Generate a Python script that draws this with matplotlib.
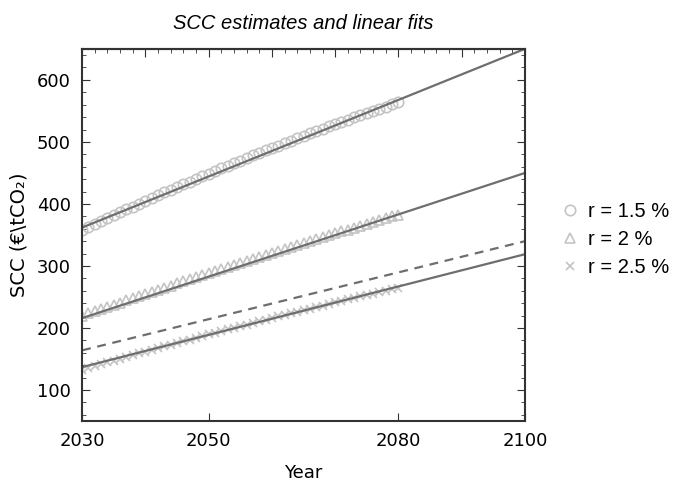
import numpy as np
import matplotlib
matplotlib.use('Agg')
import matplotlib.pyplot as plt
from matplotlib.ticker import MultipleLocator, FixedLocator

# yearly SCC estimates, 2030..2080
years = np.arange(2030, 2081)

scc_15 = [358.0, 362.8, 367.6, 372.4, 377.1, 381.8, 386.5, 391.2, 395.8, 400.4,
          405.0, 409.5, 414.0, 418.5, 422.9, 427.4, 431.8, 436.1, 440.5, 444.8,
          449.0, 453.3, 457.5, 461.7, 465.9, 470.0, 474.1, 478.2, 482.2, 486.3,
          490.2, 494.2, 498.1, 502.0, 505.9, 509.8, 513.6, 517.4, 521.1, 524.9,
          528.6, 532.2, 535.9, 539.5, 543.1, 546.6, 550.2, 553.7, 557.1, 560.6,
          564.0]

scc_2 = [220.0, 223.5, 227.1, 230.6, 234.1, 237.6, 241.0, 244.5, 248.0, 251.4,
         254.8, 258.3, 261.7, 265.1, 268.5, 271.8, 275.2, 278.6, 281.9, 285.2,
         288.6, 291.9, 295.2, 298.5, 301.7, 305.0, 308.3, 311.5, 314.7, 318.0,
         321.2, 324.4, 327.6, 330.7, 333.9, 337.0, 340.2, 343.3, 346.4, 349.5,
         352.6, 355.7, 358.8, 361.9, 364.9, 368.0, 371.0, 374.0, 377.0, 380.0,
         383.0]

scc_25 = [133.0, 136.0, 138.9, 141.8, 144.7, 147.6, 150.5, 153.4, 156.3, 159.1,
          162.0, 164.8, 167.6, 170.4, 173.2, 176.0, 178.7, 181.5, 184.2, 186.9,
          189.6, 192.3, 195.0, 197.7, 200.4, 203.0, 205.6, 208.3, 210.9, 213.5,
          216.0, 218.6, 221.2, 223.7, 226.2, 228.8, 231.3, 233.8, 236.2, 238.7,
          241.2, 243.6, 246.0, 248.5, 250.9, 253.2, 255.6, 258.0, 260.3, 262.7,
          265.0]

# linear fits (end points 2030 and 2100)
fit_years = [2030, 2100]
fit_15 = [362, 650]
fit_2 = [216, 450]
fit_25 = [137, 319]
fit_dash = [164, 340]

mk_col = '#c4c4c4'
ln_col = '#6e6e6e'

fig = plt.figure(figsize=(6.73, 4.84), dpi=100)
ax = fig.add_axes([0.122, 0.130, 0.658, 0.769])

ax.plot(years, scc_15, 'o', ms=7.5, mfc='none', mec=mk_col, mew=1.2, label='r = 1.5 %')
ax.plot(years, scc_2, '^', ms=7.5, mfc='none', mec=mk_col, mew=1.2, label='r = 2 %')
ax.plot(years, scc_25, 'x', ms=6, mec=mk_col, mew=1.2, label='r = 2.5 %')

ax.plot(fit_years, fit_15, color=ln_col, lw=1.6)
ax.plot(fit_years, fit_2, color=ln_col, lw=1.6)
ax.plot(fit_years, fit_25, color=ln_col, lw=1.6)
ax.plot(fit_years, fit_dash, color=ln_col, lw=1.6, ls=(0, (4, 3)))

ax.set_xlim(2030, 2100)
ax.set_ylim(50, 650)

ax.xaxis.set_major_locator(FixedLocator([2030, 2050, 2080, 2100]))
ax.yaxis.set_major_locator(MultipleLocator(100))
ax.yaxis.set_minor_locator(MultipleLocator(20))
ax.tick_params(axis='both', which='both', direction='in', color='#333333')
ax.tick_params(axis='both', which='major', length=6, labelsize=13, pad=8)
ax.tick_params(axis='y', which='both', right=True)
ax.tick_params(axis='y', which='minor', length=3)

# top axis has its own ticks every 2 years
top = ax.secondary_xaxis('top')
top.xaxis.set_major_locator(MultipleLocator(10))
top.xaxis.set_minor_locator(MultipleLocator(2))
top.tick_params(which='both', direction='in', labeltop=False, color='#333333')
top.tick_params(which='major', length=6)
top.tick_params(which='minor', length=3)
top.spines['top'].set_color('#333333')
top.spines['top'].set_linewidth(1.5)

for s in ax.spines.values():
    s.set_color('#333333')
    s.set_linewidth(1.5)

ax.set_xlabel('Year', fontsize=13, labelpad=10)
ax.set_ylabel('SCC (€\\tCO₂)', fontsize=14, labelpad=6)
ax.set_title('SCC estimates and linear fits', fontsize=14.5, style='italic',
             family='Liberation Sans', pad=14)

ax.legend(loc='center left', bbox_to_anchor=(1.06, 0.487), frameon=False,
          prop={'family': 'Liberation Sans', 'size': 14.5}, handletextpad=0.4,
          labelspacing=0.45, handlelength=1.0, borderaxespad=0)

fig.savefig('out.png', dpi=100)
